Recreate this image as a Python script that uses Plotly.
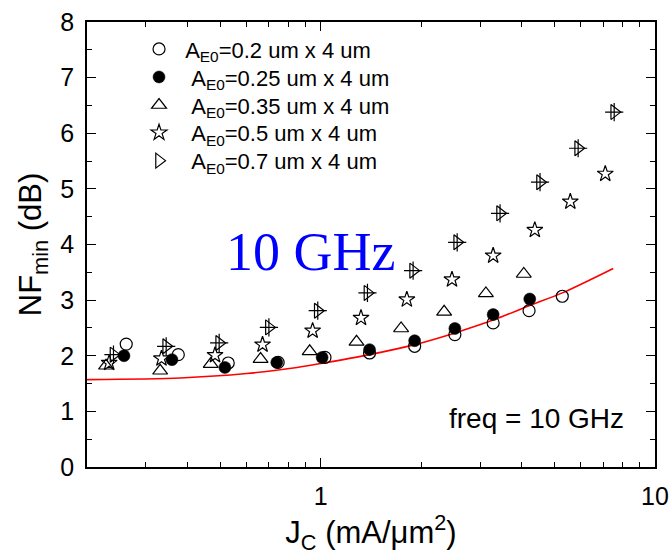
import plotly.graph_objects as go

# Collector current density J_C (mA/um^2) and minimum noise figure NF_min (dB)
jc_020 = [0.262, 0.375, 0.529, 0.746, 1.03, 1.40, 1.91, 2.52, 3.28, 4.20, 5.28]
nf_020 = [2.21, 2.02, 1.87, 1.88, 1.97, 2.05, 2.17, 2.38, 2.59, 2.81, 3.07]

jc_025 = [0.258, 0.359, 0.517, 0.739, 1.01, 1.40, 1.91, 2.52, 3.28, 4.22]
nf_025 = [2.00, 1.93, 1.79, 1.88, 1.97, 2.11, 2.27, 2.49, 2.74, 3.02]

jc_035 = [0.228, 0.331, 0.469, 0.661, 0.927, 1.28, 1.74, 2.34, 3.12, 4.05]
nf_035 = [1.82, 1.73, 1.85, 1.94, 2.08, 2.25, 2.49, 2.79, 3.12, 3.47]

jc_050 = [0.233, 0.334, 0.483, 0.670, 0.946, 1.32, 1.81, 2.47, 3.28, 4.37, 5.58, 7.10]
nf_050 = [1.87, 1.95, 2.01, 2.20, 2.45, 2.68, 3.01, 3.37, 3.80, 4.26, 4.77, 5.27]

jc_070 = [0.240, 0.345, 0.497, 0.700, 0.980, 1.38, 1.89, 2.56, 3.44, 4.53, 5.89, 7.55]
nf_070 = [2.02, 2.17, 2.23, 2.51, 2.81, 3.13, 3.53, 4.04, 4.56, 5.12, 5.73, 6.38]

# Model curve
jc_model = [0.2, 0.38, 0.60, 0.85, 1.0, 1.40, 1.91, 2.55, 3.31, 4.20, 5.28, 7.50]
nf_model = [1.57, 1.60, 1.68, 1.79, 1.86, 2.02, 2.20, 2.42, 2.65, 2.90, 3.13, 3.57]

labels = [
    "\u00a0A<sub>E0</sub>=0.2 um x 4 um",
    "\u00a0\u00a0A<sub>E0</sub>=0.25 um x 4 um",
    "\u00a0\u00a0A<sub>E0</sub>=0.35 um x 4 um",
    "\u00a0\u00a0A<sub>E0</sub>=0.5 um x 4 um",
    "\u00a0\u00a0A<sub>E0</sub>=0.7 um x 4 um",
]

x_ticks = [1, 10]
x_minor = [0.3, 0.4, 0.5, 0.6, 0.7, 0.8, 0.9, 2, 3, 4, 5, 6, 7, 8, 9]

FONT = "Liberation Sans, Arial, sans-serif"
mline = dict(color="black", width=1.2)

fig = go.Figure()

fig.add_trace(go.Scatter(
    x=jc_model, y=nf_model, mode="lines", line=dict(color="red", width=1.6, shape="spline", smoothing=0.8),
    showlegend=False, hoverinfo="skip"))

legend_ids = ["legend", "legend2", "legend3", "legend4", "legend5"]

fig.add_trace(go.Scatter(
    x=jc_020, y=nf_020, mode="markers", name=labels[0], legend=legend_ids[0],
    marker=dict(symbol="circle-open", size=12, color="black", line=mline)))
fig.add_trace(go.Scatter(
    x=jc_025, y=nf_025, mode="markers", name=labels[1], legend=legend_ids[1],
    marker=dict(symbol="circle", size=12, color="black", line=dict(color="black", width=0.5))))
fig.add_trace(go.Scatter(
    x=jc_035, y=nf_035, mode="markers", name=labels[2], legend=legend_ids[2],
    marker=dict(symbol="triangle-up-open", size=13, color="black", line=mline)))
fig.add_trace(go.Scatter(
    x=jc_050, y=nf_050, mode="markers", name=labels[3], legend=legend_ids[3],
    marker=dict(symbol="star-open", size=12, color="black", line=mline)))
fig.add_trace(go.Scatter(
    x=jc_070, y=nf_070, mode="markers", name=labels[4], legend=legend_ids[4],
    marker=dict(symbol="triangle-right-open", size=13, color="black", line=mline)))
fig.add_trace(go.Scatter(
    x=jc_070, y=nf_070, mode="markers", showlegend=False,
    marker=dict(symbol="cross-thin-open", size=13, color="black", line=mline)))

fig.add_annotation(
    x=0.394, y=0.483, xref="paper", yref="paper", text="10 GHz", showarrow=False,
    xanchor="center", yanchor="middle",
    font=dict(family="Liberation Serif, Times New Roman, serif", size=54, color="#0000ff"))
fig.add_annotation(
    x=0.792, y=0.110, xref="paper", yref="paper", text="freq = 10 GHz", showarrow=False,
    xanchor="center", yanchor="middle", font=dict(family=FONT, size=28, color="black"))

axis_common = dict(
    showline=True, linecolor="black", linewidth=1.6, mirror="ticks", automargin=False,
    ticks="inside", tickcolor="black", tickwidth=1.4, showgrid=False, zeroline=False,
    tickfont=dict(family=FONT, size=25, color="black"),
)

fig.update_xaxes(
    type="log", range=[-0.699, 1.0], tickmode="array", tickvals=x_ticks, ticktext=["1", "10"],
    ticklen=9, ticklabelstandoff=6,
    minor=dict(tickmode="array", tickvals=x_minor, ticks="inside", ticklen=5, tickcolor="black", tickwidth=1.2),
    title=dict(text="J<sub>C</sub> (mA/\u03bcm<sup>2</sup>)", font=dict(family=FONT, size=31, color="black"),
               standoff=22),
    **axis_common)
fig.update_yaxes(
    range=[0, 8], dtick=1, tick0=0, ticklen=9, ticklabelstandoff=6,
    minor=dict(dtick=0.5, ticks="inside", ticklen=5, tickcolor="black", tickwidth=1.2),
    title=dict(text="NF<sub>min</sub> (dB)", font=dict(family=FONT, size=31, color="black"), standoff=9),
    **axis_common)

# one legend box per entry so that the rows sit at fixed spacing
row_y = [0.939, 0.876, 0.813, 0.751, 0.688]
legend_style = dict(x=0.0916, xanchor="left", yanchor="middle", bgcolor="rgba(0,0,0,0)",
                    font=dict(family=FONT, size=22, color="black"), itemsizing="trace")

fig.update_layout(
    width=669, height=555,
    margin=dict(l=87, r=14, t=22, b=88),
    paper_bgcolor="white", plot_bgcolor="white",
    showlegend=True,
    **{lid: dict(y=yy, **legend_style) for lid, yy in zip(legend_ids, row_y)},
)

fig.write_html("out.html")
